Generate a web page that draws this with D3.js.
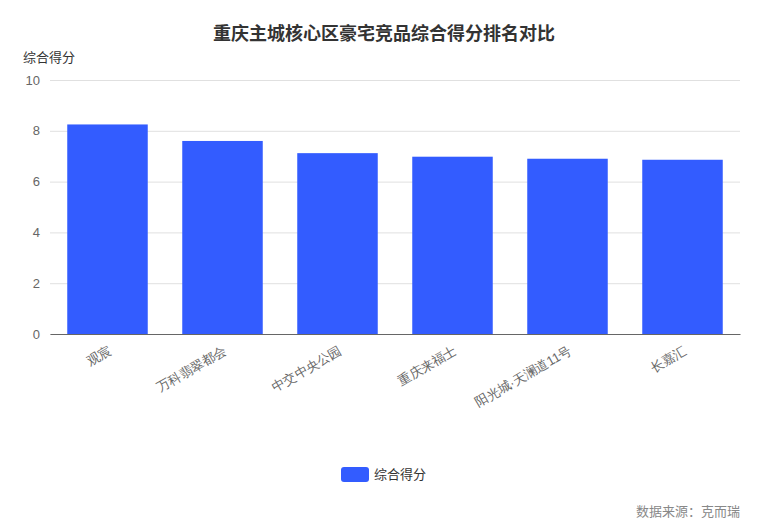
<!DOCTYPE html>
<html><head><meta charset="utf-8">
<script src="https://cdn.jsdelivr.net/npm/d3@7"></script>
<style>body{margin:0;background:#fff;font-family:"Noto Sans CJK SC","Noto Sans",sans-serif}</style>
</head><body>
<svg id="chart" width="768" height="530"></svg>
<script>
const categories = ["观宸", "万科翡翠都会", "中交中央公园", "重庆来福士", "阳光城·天澜道11号", "长嘉汇"];
const scores = [8.25, 7.6, 7.12, 6.98, 6.9, 6.86];
const yTicks = [0, 2, 4, 6, 8, 10];

const svg = d3.select("#chart");
const m = {l: 50, r: 740, t: 80, b: 334};

const x = d3.scaleBand().domain(categories).range([m.l, m.r]).paddingInner(0.3).paddingOuter(0.15);
const y = d3.scaleLinear().domain([0, 10]).range([m.b, m.t]);

svg.append("text").attr("x", 384).attr("y", 40).attr("text-anchor", "middle")
    .attr("font-size", 18).attr("font-weight", "bold").attr("fill", "#333")
    .text("重庆主城核心区豪宅竞品综合得分排名对比");
svg.append("text").attr("x", 23).attr("y", 62).attr("font-size", 13).attr("fill", "#333").text("综合得分");

const yAxis = svg.append("g").attr("transform", `translate(${m.l},0)`)
    .call(d3.axisLeft(y).tickValues(yTicks).tickSize(-(m.r - m.l)).tickPadding(10));
yAxis.select(".domain").remove();
yAxis.selectAll("line").attr("stroke", "#e0e0e0");
yAxis.selectAll("text").attr("font-size", 13).attr("fill", "#666");

svg.selectAll("rect.bar").data(scores).enter().append("rect")
    .attr("class", "bar")
    .attr("x", (d, i) => x(categories[i]))
    .attr("y", d => y(d))
    .attr("width", x.bandwidth())
    .attr("height", d => y(0) - y(d))
    .attr("fill", "#335cff");

const xAxis = svg.append("g").attr("transform", `translate(0,${m.b})`)
    .call(d3.axisBottom(x).tickSize(0).tickPadding(0));
xAxis.select(".domain").attr("stroke", "#666");
xAxis.selectAll("text").attr("font-size", 13).attr("fill", "#666")
    .attr("text-anchor", "end")
    .attr("transform", "translate(0,10) rotate(-30)")
    .attr("dy", "0.8em");

svg.append("rect").attr("x", 341).attr("y", 467).attr("width", 28).attr("height", 15).attr("rx", 3).attr("fill", "#335cff");
svg.append("text").attr("x", 374).attr("y", 479).attr("font-size", 13).attr("fill", "#333").text("综合得分");
svg.append("text").attr("x", 740).attr("y", 516).attr("text-anchor", "end").attr("font-size", 13).attr("fill", "#888").text("数据来源：克而瑞");
</script>
</body></html>
